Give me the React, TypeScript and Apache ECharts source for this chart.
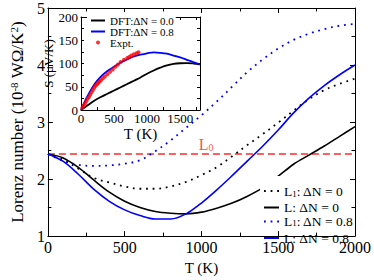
import React, { useEffect, useRef } from "react";
import * as echarts from "echarts";

// ---- Main plot: Lorenz number vs T ----
const T = [0, 100, 200, 300, 400, 500, 600, 700, 800, 900, 1000, 1100, 1200, 1300, 1400, 1500, 1600, 1700, 1800, 1900, 2000];
const L_DN0 = [2.44, 2.37, 2.2, 1.98, 1.77, 1.61, 1.5, 1.43, 1.4, 1.39, 1.42, 1.49, 1.58, 1.7, 1.85, 2.05, 2.26, 2.42, 2.58, 2.75, 2.92];
const L1_DN0 = [2.44, 2.34, 2.18, 2.02, 1.94, 1.87, 1.83, 1.83, 1.87, 1.95, 2.07, 2.21, 2.4, 2.6, 2.79, 2.99, 3.2, 3.4, 3.56, 3.67, 3.76];
const L_DN08 = [2.44, 2.31, 2.08, 1.82, 1.61, 1.46, 1.36, 1.3, 1.3, 1.39, 1.58, 1.81, 2.06, 2.32, 2.58, 2.86, 3.16, 3.42, 3.64, 3.83, 4.0];
const L1_DN08 = [2.44, 2.32, 2.25, 2.23, 2.24, 2.27, 2.33, 2.49, 2.68, 2.9, 3.12, 3.36, 3.62, 3.88, 4.1, 4.29, 4.44, 4.55, 4.63, 4.69, 4.72];
const L0_VALUE = 2.44;
const L0_LABEL_T = 1030;

// ---- Inset: Seebeck coefficient vs T ----
const INSET_T = [0, 50, 100, 200, 300, 400, 500, 600, 700, 800, 900, 1000, 1100, 1200, 1300, 1400, 1500, 1600, 1700, 1800];
const S_DN00 = [0, 5, 10, 20, 28, 35, 42, 49, 56, 63, 70, 78, 85, 91, 96, 99, 100.5, 101, 100, 98];
const S_DN08 = [0, 16, 30, 55, 72, 84, 93, 102, 109, 115, 119, 122, 124, 123, 121, 117, 113, 108, 103, 98];
const EXPT_T = [20, 40, 60, 80, 100, 120, 140, 160, 180, 200, 220, 240, 260, 280, 300, 330, 360, 400, 440, 480, 520, 560, 600, 650, 700, 730, 760, 800, 840, 870];
const EXPT_S = [5, 9, 14, 19, 24, 28, 33, 38, 43, 48, 52, 55, 58, 61, 64, 68, 72, 77, 82, 87, 93, 98, 103, 108, 112, 114, 117, 120, 122, 124];

const N1 = "L1: ΔN = 0";
const N2 = "L: ΔN = 0";
const N3 = "L1: ΔN = 0.8";
const N4 = "L: ΔN = 0.8";
const I1 = "DFT:ΔN = 0.0";
const I2 = "DFT:ΔN = 0.8";
const I3 = "Expt.";

const SERIF = "'Liberation Serif', 'Times New Roman', serif";
const BLUE = "#0000ff";
const BLACK = "#000000";
const RED = "#ff2a2a";
const DOT: number[] = [1.8, 4.8];

const plain = (v: number) => String(v);

function frameAxis(gridIndex: number, position: string, min: number, max: number, interval: number, label: any, tickLen: number, minorLen: number, extra: any = {}) {
  return {
    type: "value",
    gridIndex,
    position,
    min,
    max,
    interval,
    axisLine: { show: true, onZero: false, lineStyle: { color: BLACK, width: 1 } },
    axisTick: { show: true, inside: true, length: tickLen, lineStyle: { color: BLACK, width: 1 } },
    minorTick: { show: true, splitNumber: 2, length: minorLen, lineStyle: { color: BLACK, width: 1 } },
    splitLine: { show: false },
    minorSplitLine: { show: false },
    axisLabel: label,
    ...extra,
  };
}

const mainLabel = { show: true, fontSize: 16, fontFamily: SERIF, color: BLACK, margin: 3, formatter: plain };
const insetLabel = { show: true, fontSize: 13, fontFamily: SERIF, color: BLACK, margin: 2, showMaxLabel: false, formatter: plain };

function legendRich(name: string) {
  if (name.startsWith("L1")) return `{a|L}{s|1}{a|${name.slice(2)}}`;
  return `{a|${name}}`;
}

function mainLegend(name: string, top: number, padding: number[], lh: number, bg: string) {
  return {
    data: [{ name, itemStyle: { opacity: 0 } }],
    left: 260,
    top,
    orient: "vertical",
    padding,
    backgroundColor: bg,
    itemWidth: 15,
    itemHeight: 8,
    itemGap: 0,
    formatter: legendRich,
    textStyle: {
      fontFamily: SERIF,
      color: BLACK,
      lineHeight: lh,
      rich: {
        a: { fontSize: 13.5, fontFamily: SERIF, color: BLACK, lineHeight: lh },
        s: { fontSize: 9, fontFamily: SERIF, color: BLACK, verticalAlign: "bottom", lineHeight: lh },
      },
    },
  };
}

export default function App() {
  const ref = useRef<HTMLDivElement>(null);
  useEffect(() => {
    if (!ref.current) return;
    const chart = echarts.init(ref.current, null, { renderer: "svg" });
    const mainSeries = (name: string, data: number[], color: string, dotted: boolean) => ({
      type: "line",
      name,
      xAxisIndex: 0,
      yAxisIndex: 0,
      data: T.map((t, i) => [t, data[i]]),
      symbol: "none",
      showSymbol: false,
      smooth: 0.35,
      lineStyle: { color, width: dotted ? 1.8 : 1.6, type: dotted ? DOT : "solid" },
      itemStyle: { color },
      z: 3,
    });
    const option: any = {
      animation: false,
      backgroundColor: "#ffffff",
      textStyle: { fontFamily: SERIF },
      grid: [
        { left: 35, right: 17, top: 6, bottom: 33 },
        { left: 81, top: 17, width: 119, height: 93, show: true, backgroundColor: "#ffffff", borderWidth: 0, z: 5 },
      ],
      xAxis: [
        frameAxis(0, "bottom", 0, 2000, 500, mainLabel, 5, 3.5, {
          name: "T (K)",
          nameLocation: "middle",
          nameGap: 19,
          nameTextStyle: { fontSize: 15, fontFamily: SERIF, color: BLACK },
        }),
        frameAxis(0, "top", 0, 2000, 500, { show: false }, 5, 3.5),
        frameAxis(1, "bottom", 0, 1800, 500, insetLabel, 3, 3, {
          name: "T (K)",
          nameLocation: "middle",
          nameGap: 16,
          nameTextStyle: { fontSize: 15, fontFamily: SERIF, color: BLACK },
          z: 6,
        }),
        frameAxis(1, "top", 0, 1800, 500, { show: false }, 3, 3, { z: 6 }),
      ],
      yAxis: [
        frameAxis(0, "left", 1, 5, 1, mainLabel, 5, 3.5, {
          name: "{n|Lorenz number (10}{s|-8}{n| WΩ/K}{s|2}{n|)}",
          nameLocation: "middle",
          nameRotate: 90,
          nameGap: 11,
          nameTextStyle: {
            rich: {
              n: { fontSize: 17, fontFamily: SERIF, color: BLACK, lineHeight: 19 },
              s: { fontSize: 11, fontFamily: SERIF, color: BLACK, verticalAlign: "top", lineHeight: 19 },
            },
          },
        }),
        frameAxis(0, "right", 1, 5, 1, { show: false }, 5, 3.5),
        frameAxis(1, "left", 0, 200, 50, { ...insetLabel, margin: 3, showMaxLabel: true }, 3, 3, {
          name: "S (μV/K)",
          nameLocation: "middle",
          nameRotate: 90,
          nameGap: 26,
          nameTextStyle: { fontSize: 13, fontFamily: SERIF, color: BLACK },
          z: 6,
        }),
        frameAxis(1, "right", 0, 200, 50, { show: false }, 3, 3, { z: 6 }),
      ],
      legend: [
        mainLegend(N1, 176, [8, 3, 3, 3], 14, "#ffffff"),
        mainLegend(N2, 200.5, [0, 3, 0, 3], 12, "transparent"),
        mainLegend(N3, 214.5, [0, 3, 0, 3], 12, "transparent"),
        mainLegend(N4, 231, [0, 3, 0, 3], 10, "transparent"),
        {
          data: [
            { name: I1, itemStyle: { opacity: 0 } },
            { name: I2, itemStyle: { opacity: 0 } },
            { name: I3 },
          ],
          left: 87,
          top: 12,
          orient: "vertical",
          padding: [3, 2, 2, 3],
          backgroundColor: "#ffffff",
          itemWidth: 14,
          itemHeight: 4,
          itemGap: 0,
          z: 8,
          textStyle: { fontSize: 11, fontFamily: SERIF, color: BLACK, lineHeight: 9 },
        },
      ],
      series: [
        {
          type: "line",
          name: "L0",
          xAxisIndex: 0,
          yAxisIndex: 0,
          data: [[0, L0_VALUE], [2000, L0_VALUE]],
          symbol: "none",
          showSymbol: false,
          lineStyle: { color: RED, width: 1.3, type: [7, 4] },
          itemStyle: { color: RED },
          z: 2,
        },
        {
          type: "scatter",
          name: "L0 label",
          xAxisIndex: 0,
          yAxisIndex: 0,
          data: [[L0_LABEL_T, L0_VALUE]],
          symbol: "circle",
          symbolSize: 1,
          itemStyle: { color: "rgba(0,0,0,0)" },
          label: {
            show: true,
            position: "top",
            distance: 1,
            formatter: "{a|L}{s|0}",
            rich: {
              a: { fontSize: 16, fontFamily: SERIF, color: "#ff1a1a", lineHeight: 16 },
              s: { fontSize: 10, fontFamily: SERIF, color: "#ff1a1a", verticalAlign: "bottom", lineHeight: 16 },
            },
          },
          silent: true,
          z: 2,
        },
        mainSeries(N1, L1_DN0, BLACK, true),
        mainSeries(N2, L_DN0, BLACK, false),
        mainSeries(N3, L1_DN08, BLUE, true),
        mainSeries(N4, L_DN08, BLUE, false),
        {
          type: "line",
          name: I1,
          xAxisIndex: 2,
          yAxisIndex: 2,
          data: INSET_T.map((t, i) => [t, S_DN00[i]]),
          symbol: "none",
          showSymbol: false,
          smooth: 0.35,
          lineStyle: { color: BLACK, width: 1.8 },
          itemStyle: { color: BLACK },
          z: 6,
        },
        {
          type: "line",
          name: I2,
          xAxisIndex: 2,
          yAxisIndex: 2,
          data: INSET_T.map((t, i) => [t, S_DN08[i]]),
          symbol: "none",
          showSymbol: false,
          smooth: 0.35,
          lineStyle: { color: BLUE, width: 1.8 },
          itemStyle: { color: BLUE },
          z: 6,
        },
        {
          type: "scatter",
          name: I3,
          xAxisIndex: 2,
          yAxisIndex: 2,
          data: EXPT_T.map((t, i) => [t, EXPT_S[i]]),
          symbol: "circle",
          symbolSize: 4,
          itemStyle: { color: "#ff0000" },
          z: 7,
        },
      ],
    };
    chart.setOption(option);
    return () => chart.dispose();
  }, []);
  return <div ref={ref} style={{ position: "fixed", left: 0, top: 0, width: 374, height: 280 }} />;
}
